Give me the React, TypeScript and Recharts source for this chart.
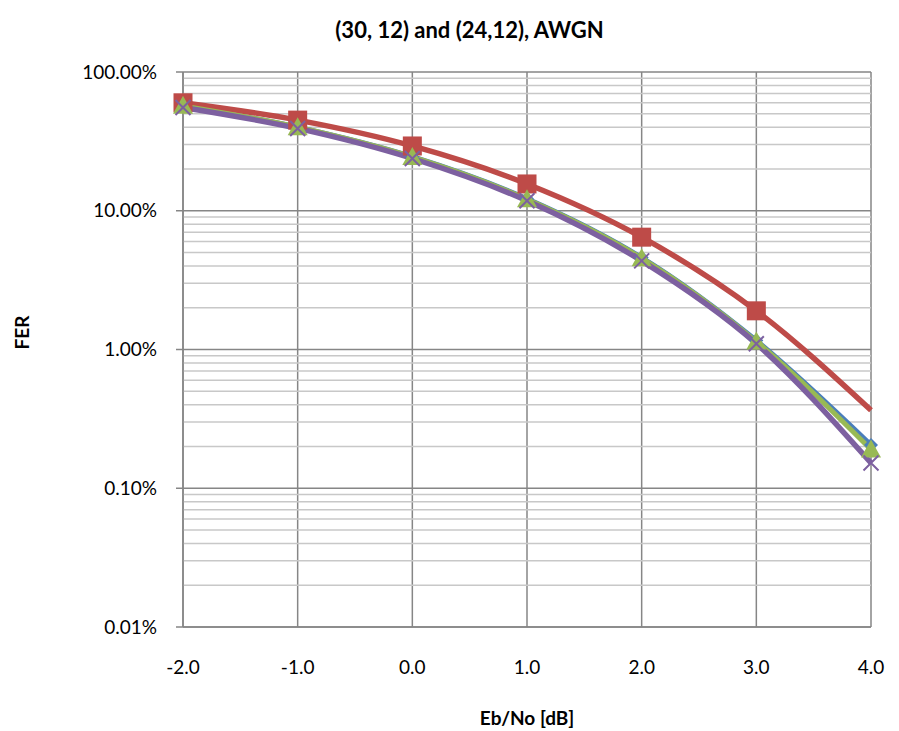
import React from "react";
import {
  CartesianGrid,
  LineChart,
  Line,
  ReferenceLine,
  XAxis,
  YAxis,
} from "recharts";

// Eb/No [dB]
const ebno = [-2, -1, 0, 1, 2, 3, 4];

// FER values (fraction)
const ferBlue = [0.57, 0.4, 0.245, 0.122, 0.046, 0.0116, 0.00205];
const ferRed = [0.6, 0.45, 0.293, 0.156, 0.0645, 0.019, 0.00365];
const ferGreen = [0.57, 0.4, 0.244, 0.121, 0.0455, 0.0114, 0.0019];
const ferPurple = [0.555, 0.392, 0.238, 0.118, 0.0435, 0.011, 0.00152];

const yMajorTicks = [0.0001, 0.001, 0.01, 0.1, 1];
const yMinorSteps = [2, 3, 4, 5, 6, 7, 8, 9];

const font = "Lato, 'Open Sans', sans-serif";
const majorGrid = "#868686";
const minorGrid = "#c8c8c8";

const data = ebno.map((x, i) => ({
  x,
  blue: ferBlue[i],
  red: ferRed[i],
  green: ferGreen[i],
  purple: ferPurple[i],
}));

const yMinorTicks = yMajorTicks
  .slice(0, -1)
  .flatMap((d) => yMinorSteps.map((s) => d * s));

const Diamond = (props: any) => {
  const { cx, cy } = props;
  if (cx == null || cy == null) return null;
  const r = 7;
  return (
    <path
      d={`M${cx},${cy - r} L${cx + r},${cy} L${cx},${cy + r} L${cx - r},${cy} Z`}
      fill="#4a7ebb"
    />
  );
};

const Square = (props: any) => {
  const { cx, cy, index } = props;
  if (cx == null || cy == null || index === ebno.length - 1) return null;
  const r = 9.5;
  return <rect x={cx - r} y={cy - r} width={2 * r} height={2 * r} fill="#be4b48" />;
};

const Triangle = (props: any) => {
  const { cx, cy } = props;
  if (cx == null || cy == null) return null;
  const r = 10;
  return (
    <path
      d={`M${cx},${cy - r} L${cx + r},${cy + r * 0.8} L${cx - r},${cy + r * 0.8} Z`}
      fill="#98b954"
    />
  );
};

const Cross = (props: any) => {
  const { cx, cy } = props;
  if (cx == null || cy == null) return null;
  const r = 7.5;
  return (
    <path
      d={`M${cx - r},${cy - r} L${cx + r},${cy + r} M${cx - r},${cy + r} L${cx + r},${cy - r}`}
      stroke="#7d60a0"
      strokeWidth={2}
    />
  );
};

export default function App() {
  return (
    <div style={{ position: "relative", width: 899, height: 731, fontFamily: font }}>
      <style>{"body{margin:0}"}</style>
      <div
        style={{
          position: "absolute",
          top: 16,
          left: 40,
          width: 859,
          textAlign: "center",
          fontWeight: "bold",
          fontSize: 22,
          lineHeight: "28px",
          color: "#000",
        }}
      >
        (30, 12) and (24,12), AWGN
      </div>
      <LineChart
        width={899}
        height={731}
        data={data}
        margin={{ top: 72, right: 28, bottom: 44, left: 0 }}
      >
        {yMinorTicks.map((v) => (
          <ReferenceLine key={v} y={v} stroke={minorGrid} strokeWidth={1.5} />
        ))}
        <CartesianGrid stroke={majorGrid} strokeWidth={1.5} />
        <XAxis
          dataKey="x"
          type="number"
          domain={[-2, 4]}
          ticks={ebno}
          tickFormatter={(v: number) => v.toFixed(1)}
          tickLine={false}
          axisLine={{ stroke: majorGrid, strokeWidth: 1.5 }}
          height={60}
          tickMargin={28}
          tick={{ fill: "#000", fontSize: 19, fontFamily: font }}
          label={{
            value: "Eb/No [dB]",
            position: "insideBottom",
            offset: -38,
            fill: "#000",
            fontSize: 19,
            fontWeight: "bold",
            fontFamily: font,
          }}
        />
        <YAxis
          scale="log"
          domain={[0.0001, 1]}
          ticks={yMajorTicks}
          allowDataOverflow
          tickFormatter={(v: number) => (v * 100).toFixed(2) + "%"}
          width={183}
          tickSize={7}
          tickMargin={19}
          tickLine={{ stroke: majorGrid, strokeWidth: 1.5 }}
          axisLine={{ stroke: majorGrid, strokeWidth: 1.5 }}
          tick={{ fill: "#000", fontSize: 19, fontFamily: font }}
          label={{
            value: "FER",
            angle: -90,
            position: "insideLeft",
            offset: 22,
            fill: "#000",
            fontSize: 19,
            fontWeight: "bold",
            fontFamily: font,
          }}
        />
        <Line
          dataKey="blue"
          type="monotone"
          stroke="#4a7ebb"
          strokeWidth={5}
          dot={<Diamond />}
          activeDot={false}
          isAnimationActive={false}
        />
        <Line
          dataKey="red"
          type="monotone"
          stroke="#be4b48"
          strokeWidth={5.5}
          dot={<Square />}
          activeDot={false}
          isAnimationActive={false}
        />
        <Line
          dataKey="green"
          type="monotone"
          stroke="#98b954"
          strokeWidth={5}
          dot={<Triangle />}
          activeDot={false}
          isAnimationActive={false}
        />
        <Line
          dataKey="purple"
          type="monotone"
          stroke="#7d60a0"
          strokeWidth={5.5}
          dot={<Cross />}
          activeDot={false}
          isAnimationActive={false}
        />
      </LineChart>
    </div>
  );
}
